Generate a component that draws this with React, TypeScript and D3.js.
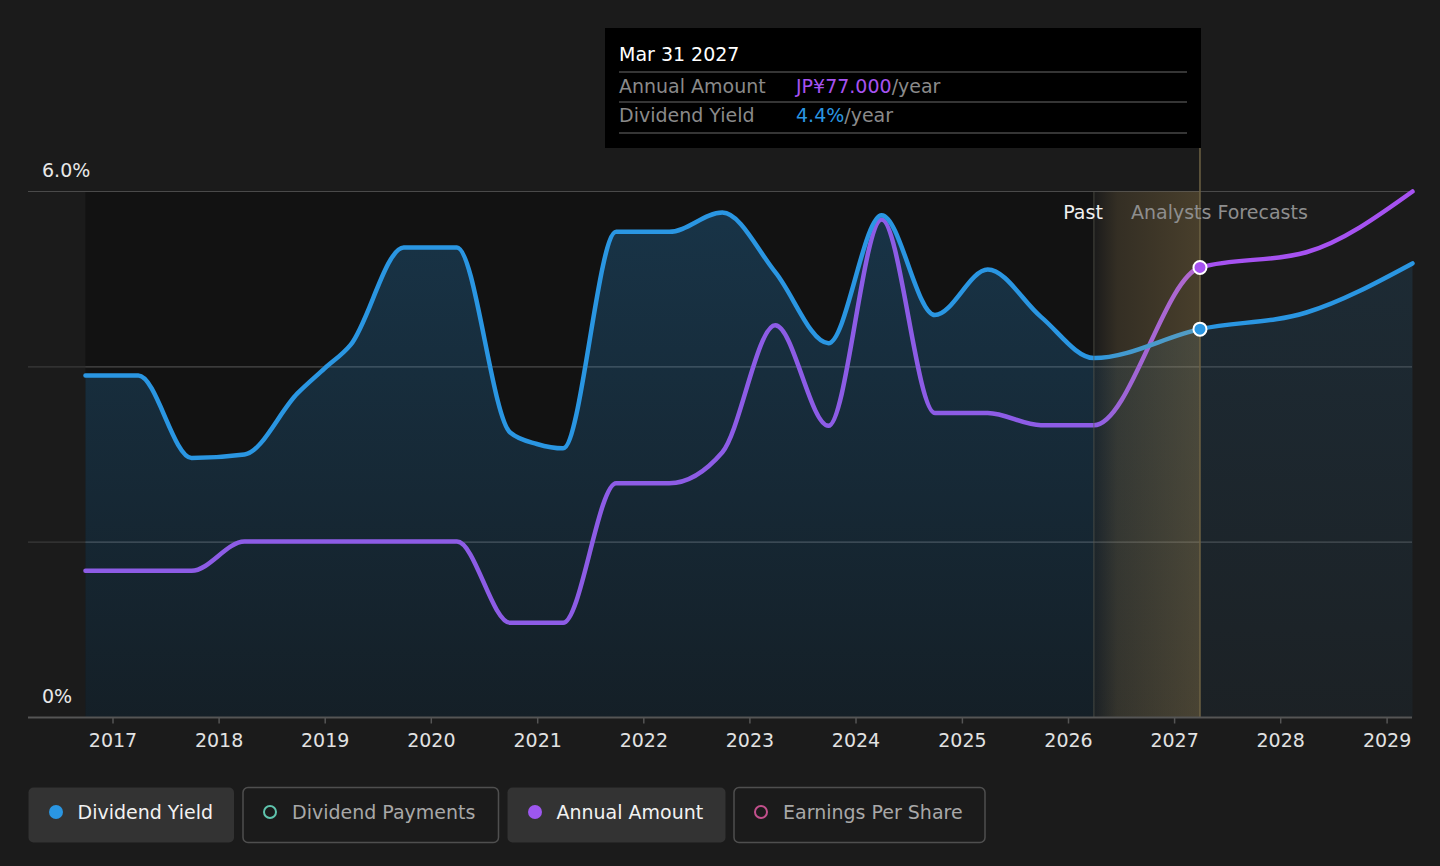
import React, { useEffect, useRef } from "react";
import * as d3 from "d3";

// semi-annual points
const yieldDates = [
	"2016-09-30", "2017-03-31", "2017-09-30", "2018-03-31", "2018-09-30", "2018-12-31",
	"2019-03-31", "2019-09-30", "2020-03-31", "2020-09-30", "2020-12-31", "2021-03-31",
	"2021-09-30", "2022-03-31", "2022-09-30", "2023-03-31", "2023-09-30", "2024-03-31",
	"2024-09-30", "2025-03-31", "2025-09-30", "2026-03-31", "2027-03-31", "2028-03-31",
	"2029-03-31",
];
const yieldValues = [
	3.9, 3.9, 2.96, 3.0, 3.7, 3.98,
	4.25, 5.36, 5.36, 3.25, 3.12, 3.07,
	5.54, 5.54, 5.76, 5.08, 4.27, 5.73,
	4.59, 5.11, 4.57, 4.1, 4.43, 4.62,
	5.18,
];

const amountDates = [
	"2016-09-30", "2017-03-31", "2017-09-30", "2018-03-31", "2018-09-30", "2019-03-31",
	"2019-09-30", "2020-03-31", "2020-09-30", "2021-03-31", "2021-09-30", "2022-03-31",
	"2022-09-30", "2023-03-31", "2023-09-30", "2024-03-31", "2024-09-30", "2025-03-31",
	"2025-09-30", "2026-03-31", "2027-03-31", "2028-03-31", "2029-03-31",
];
const amountValues = [
	25.1, 25.1, 25.1, 30.1, 30.1, 30.1,
	30.1, 30.1, 16.2, 16.2, 40.1, 40.1,
	45.4, 67.1, 49.9, 85.2, 52.1, 52.1,
	50.0, 50.0, 77.0, 79.6, 90.0,
];

const yearTicks = [2017, 2018, 2019, 2020, 2021, 2022, 2023, 2024, 2025, 2026, 2027, 2028, 2029];
const pctTicks = [0, 2, 4, 6];

const pastEnd = "2026-03-31";
const hoverDate = "2027-03-31";

const legendItems = [
	{ label: "Dividend Yield", color: "#2a96e2", active: true },
	{ label: "Dividend Payments", color: "#5fc4ad", active: false },
	{ label: "Annual Amount", color: "#9d57ef", active: true },
	{ label: "Earnings Per Share", color: "#c2508c", active: false },
];

const W = 1440;
const H = 866;
const FONT = "DejaVu Sans, Verdana, sans-serif";

const parse = d3.timeParse("%Y-%m-%d");

export default function App() {
	const axisRef = useRef<SVGGElement | null>(null);

	const left = 28;
	const right = 1412;
	const top = 191.5;
	const bottom = 717.5;

	const x = d3
		.scaleTime()
		.domain([new Date(2017, 0, 1), new Date(2029, 0, 1)])
		.range([112.5, 1386.6]);
	const yPct = d3.scaleLinear().domain([0, 6]).range([bottom, top]);
	const yAmt = d3.scaleLinear().domain([0, 90]).range([bottom, top]);

	const yieldData = yieldDates.map((d, i) => ({ date: parse(d)!, value: yieldValues[i] }));
	const amountData = amountDates.map((d, i) => ({ date: parse(d)!, value: amountValues[i] }));

	const yieldLine = d3
		.line<{ date: Date; value: number }>()
		.x((d) => x(d.date))
		.y((d) => yPct(d.value))
		.curve(d3.curveMonotoneX);
	const yieldArea = d3
		.area<{ date: Date; value: number }>()
		.x((d) => x(d.date))
		.y0(bottom)
		.y1((d) => yPct(d.value))
		.curve(d3.curveMonotoneX);
	const amountLine = d3
		.line<{ date: Date; value: number }>()
		.x((d) => x(d.date))
		.y((d) => yAmt(d.value))
		.curve(d3.curveMonotoneX);

	const xStart = x(yieldData[0].date);
	const xEnd = x(yieldData[yieldData.length - 1].date);
	const xPast = x(parse(pastEnd)!);
	const xHover = x(parse(hoverDate)!);
	const hoverYield = yieldData.find((d) => d3.timeFormat("%Y-%m-%d")(d.date) === hoverDate)!;
	const hoverAmount = amountData.find((d) => d3.timeFormat("%Y-%m-%d")(d.date) === hoverDate)!;

	useEffect(() => {
		const g = d3.select(axisRef.current);
		g.selectAll("*").remove();
		g.call(
			d3
				.axisBottom(x)
				.tickValues(yearTicks.map((y) => new Date(y, 0, 1)))
				.tickFormat(d3.timeFormat("%Y") as any)
				.tickSize(6)
				.tickSizeOuter(0)
		);
		g.select(".domain").remove();
		g.selectAll(".tick line").attr("stroke", "#555").attr("stroke-width", 1.5);
		g.selectAll(".tick text")
			.attr("fill", "#e2e2e2")
			.attr("font-size", 19)
			.attr("font-family", FONT)
			.attr("dy", 0)
			.attr("y", 29);
	}, []);

	return (
		<svg
			width={W}
			height={H}
			style={{ position: "absolute", left: 0, top: 0, background: "#1b1b1b" }}
		>
			<defs>
				<linearGradient id="pastFill" x1="0" y1={top} x2="0" y2={bottom} gradientUnits="userSpaceOnUse">
					<stop offset="0" stopColor="#2a96e2" stopOpacity={0.26} />
					<stop offset="1" stopColor="#2a96e2" stopOpacity={0.1} />
				</linearGradient>
				<linearGradient id="futureFill" x1="0" y1={top} x2="0" y2={bottom} gradientUnits="userSpaceOnUse">
					<stop offset="0" stopColor="#2a96e2" stopOpacity={0.14} />
					<stop offset="1" stopColor="#2a96e2" stopOpacity={0.05} />
				</linearGradient>
				<linearGradient id="band" x1={xPast} y1="0" x2={xHover} y2="0" gradientUnits="userSpaceOnUse">
					<stop offset="0" stopColor="#d9b060" stopOpacity={0} />
					<stop offset="0.22" stopColor="#d9b060" stopOpacity={0.13} />
					<stop offset="1" stopColor="#d9b060" stopOpacity={0.24} />
				</linearGradient>
				<linearGradient id="purpleStroke" x1={xPast} y1="0" x2={xHover} y2="0" gradientUnits="userSpaceOnUse">
					<stop offset="0" stopColor="#8d5ce6" />
					<stop offset="1" stopColor="#a652f1" />
				</linearGradient>
				<clipPath id="clipPast">
					<rect x={0} y={0} width={xPast} height={H} />
				</clipPath>
				<clipPath id="clipFuture">
					<rect x={xPast} y={0} width={W - xPast} height={H} />
				</clipPath>
			</defs>

			<rect x={0} y={0} width={W} height={H} fill="#1b1b1b" />
			{/* darker past background */}
			<rect x={xStart} y={top} width={xPast - xStart} height={bottom - top} fill="#121212" />

			{/* grid */}
			{pctTicks.slice(1).map((t) => (
				<line
					key={t}
					x1={left}
					x2={right}
					y1={yPct(t)}
					y2={yPct(t)}
					stroke={t === 6 ? "#4a4a4a" : "#3a3a3a"}
					strokeWidth={1.2}
				/>
			))}

			<path d={yieldArea(yieldData)!} fill="url(#pastFill)" clipPath="url(#clipPast)" />
			<path d={yieldArea(yieldData)!} fill="url(#futureFill)" clipPath="url(#clipFuture)" />

			{/* redraw faint grid lines over the fill */}
			{[2, 4].map((t) => (
				<line key={"g" + t} x1={xStart} x2={right} y1={yPct(t)} y2={yPct(t)} stroke="#ffffff" strokeOpacity={0.08} strokeWidth={1.2} />
			))}

			<path d={amountLine(amountData)!} fill="none" stroke="url(#purpleStroke)" strokeWidth={4.5} strokeLinejoin="round" strokeLinecap="round" />
			<path d={yieldLine(yieldData)!} fill="none" stroke="#2a96e2" strokeWidth={4.5} strokeLinejoin="round" strokeLinecap="round" />

			{/* forecast band */}
			<rect x={xPast} y={top} width={xHover - xPast} height={bottom - top} fill="url(#band)" />
			<line x1={xPast} x2={xPast} y1={top} y2={bottom} stroke="#5a5a50" strokeOpacity={0.6} strokeWidth={1.2} />
			<line x1={xHover} x2={xHover} y1={148} y2={bottom} stroke="#6e6243" strokeWidth={1.5} />

			{/* axis */}
			<line x1={left} x2={right} y1={bottom} y2={bottom} stroke="#555" strokeWidth={2} />
			<g ref={axisRef} transform={`translate(0,${bottom})`} />

			{/* y labels */}
			<text x={42} y={177} fill="#e8e8e8" fontSize={19} fontFamily={FONT}>6.0%</text>
			<text x={42} y={703} fill="#e8e8e8" fontSize={19} fontFamily={FONT}>0%</text>

			<text x={xPast + 9} y={219} fill="#f0f0f0" fontSize={19} fontFamily={FONT} textAnchor="end">Past</text>
			<text x={1131} y={219} fill="#8e8e8e" fontSize={19} fontFamily={FONT}>Analysts Forecasts</text>

			{/* hover dots */}
			<circle cx={xHover} cy={yAmt(hoverAmount.value)} r={6.5} fill="#a652f1" stroke="#fff" strokeWidth={2} />
			<circle cx={xHover} cy={yPct(hoverYield.value)} r={6.5} fill="#2a96e2" stroke="#fff" strokeWidth={2} />

			{/* tooltip */}
			<rect x={605} y={28} width={596} height={120} fill="#000" />
			<text x={619} y={61} fill="#fff" fontSize={19} fontFamily={FONT}>Mar 31 2027</text>
			{[72, 102, 133].map((yy) => (
				<line key={yy} x1={619} x2={1187} y1={yy} y2={yy} stroke="#474747" strokeWidth={1.5} />
			))}
			<text x={619} y={93} fill="#8a8a8a" fontSize={19} fontFamily={FONT}>Annual Amount</text>
			<text x={796} y={93} fontSize={19} fontFamily={FONT}>
				<tspan fill="#a652f1">JP¥{hoverAmount.value.toFixed(3)}</tspan>
				<tspan fill="#8a8a8a">/year</tspan>
			</text>
			<text x={619} y={122} fill="#8a8a8a" fontSize={19} fontFamily={FONT}>Dividend Yield</text>
			<text x={796} y={122} fontSize={19} fontFamily={FONT}>
				<tspan fill="#2a96e2">{hoverYield.value.toFixed(1)}%</tspan>
				<tspan fill="#8a8a8a">/year</tspan>
			</text>

			{/* legend */}
			{(() => {
				const boxes = [
					{ x: 28.5, w: 205.5 },
					{ x: 243, w: 255.5 },
					{ x: 507.5, w: 218 },
					{ x: 734, w: 251 },
				];
				return legendItems.map((item, i) => {
					const b = boxes[i];
					return (
						<g key={item.label}>
							<rect
								x={b.x}
								y={787.5}
								width={b.w}
								height={55}
								rx={5}
								fill={item.active ? "#333333" : "#1b1b1b"}
								stroke={item.active ? "none" : "#4f4f4f"}
								strokeWidth={1.5}
							/>
							{item.active ? (
								<circle cx={b.x + 27.5} cy={812} r={7} fill={item.color} />
							) : (
								<circle cx={b.x + 27} cy={812} r={6} fill="none" stroke={item.color} strokeWidth={2} />
							)}
							<text
								x={b.x + 49}
								y={818.5}
								fill={item.active ? "#f2f2f2" : "#a8a8a8"}
								fontSize={19}
								fontFamily={FONT}
							>
								{item.label}
							</text>
						</g>
					);
				});
			})()}
		</svg>
	);
}
